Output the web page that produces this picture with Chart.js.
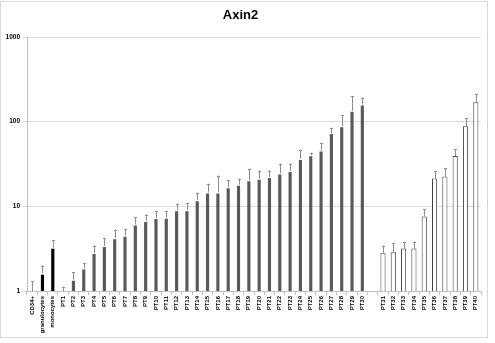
<!DOCTYPE html>
<html lang="en">
<head>
    <meta charset="UTF-8">
    <title>Axin2</title>
    <script src="https://cdn.jsdelivr.net/npm/chart.js"></script>
    <style>
        body { margin: 0; background: #fff; }
        #wrap { width: 495px; height: 343px; }
    </style>
</head>
<body>
<div id="wrap"><canvas id="chart" width="495" height="343"></canvas></div>
<script>
    const categories = ['CD34+', 'granulocytes', 'monocytes',
        'PT1', 'PT2', 'PT3', 'PT4', 'PT5', 'PT6', 'PT7', 'PT8', 'PT9', 'PT10',
        'PT11', 'PT12', 'PT13', 'PT14', 'PT15', 'PT16', 'PT17', 'PT18', 'PT19', 'PT20',
        'PT21', 'PT22', 'PT23', 'PT24', 'PT25', 'PT26', 'PT27', 'PT28', 'PT29', 'PT30',
        '',
        'PT31', 'PT32', 'PT33', 'PT34', 'PT35', 'PT36', 'PT37', 'PT38', 'PT39', 'PT40'];

    const expression = [1.0, 1.6, 3.25,
        1.0, 1.36, 1.84, 2.81, 3.4, 4.2, 4.5, 6.1, 6.7, 7.3,
        7.35, 9.0, 9.0, 11.8, 14.6, 14.6, 16.8, 18.0, 20.3, 21.2,
        22.2, 24.5, 26.1, 36.3, 40, 45.5, 73.4, 88, 135, 159,
        null,
        2.79, 2.87, 3.17, 3.17, 7.57, 21.3, 22.5, 39.2, 88, 169];

    // upper error (SD) added on top of each bar
    const errorUp = [0.3, 0.4, 0.7,
        0.1, 0.3, 0.28, 0.63, 0.82, 1.1, 0.9, 1.3, 1.3, 1.4,
        1.55, 1.8, 1.9, 2.7, 3.9, 8.5, 3.5, 3.2, 7.6, 5.2,
        4.2, 7.4, 5.8, 10.2, 3, 9.9, 11.6, 32, 65, 33,
        null,
        0.65, 0.82, 0.66, 0.66, 1.63, 4.7, 5.5, 7.8, 21, 43];

    const yTicks = [1, 10, 100, 1000];

    function groupOf(label) {
        if (label === 'granulocytes' || label === 'monocytes') return 'cells';
        if (label.startsWith('PT') && parseInt(label.slice(2)) > 30) return 'open';
        return 'patient';
    }
    const fills = categories.map(l => ({ cells: '#000000', patient: '#595959', open: '#ffffff' })[groupOf(l)]);
    const borders = categories.map(l => groupOf(l) === 'open' ? '#404040' : 'rgba(0,0,0,0)');

    const errorBars = {
        id: 'errorBars',
        afterDatasetsDraw(chart) {
            const { ctx, scales } = chart;
            const meta = chart.getDatasetMeta(0);
            ctx.save();
            ctx.strokeStyle = '#8c8c8c';
            ctx.lineWidth = 1;
            expression.forEach((v, i) => {
                if (v === null || errorUp[i] === null) return;
                const x = Math.round(meta.data[i].x) + 0.5;
                const y0 = scales.y.getPixelForValue(v);
                const y1 = scales.y.getPixelForValue(v + errorUp[i]);
                ctx.beginPath();
                ctx.moveTo(x, y0);
                ctx.lineTo(x, y1);
                ctx.moveTo(x - 1.5, Math.round(y1) + 0.5);
                ctx.lineTo(x + 1.5, Math.round(y1) + 0.5);
                ctx.stroke();
            });
            ctx.restore();
        }
    };

    const frame = {
        id: 'frame',
        beforeDraw(chart) {
            const { ctx } = chart;
            ctx.save();
            ctx.strokeStyle = '#d9d9d9';
            ctx.lineWidth = 1;
            ctx.strokeRect(0.5, 1.5, 487, 336);
            ctx.restore();
        }
    };

    new Chart(document.getElementById('chart'), {
        type: 'bar',
        data: {
            labels: categories,
            datasets: [{
                data: expression,
                backgroundColor: fills,
                borderColor: borders,
                borderWidth: 1,
                barPercentage: 0.5,
                categoryPercentage: 1.0
            }]
        },
        options: {
            responsive: false,
            animation: false,
            layout: { padding: { left: 0, right: 14, top: 0, bottom: 0 } },
            plugins: {
                legend: { display: false },
                tooltip: { enabled: false },
                title: {
                    display: true,
                    text: 'Axin2',
                    color: '#000',
                    font: { family: 'Liberation Sans', size: 13, weight: 'bold' },
                    padding: { top: 8, bottom: 13.4 }
                }
            },
            scales: {
                x: {
                    grid: { drawOnChartArea: false, color: '#bfbfbf', tickLength: 4 },
                    border: { color: '#bfbfbf' },
                    ticks: {
                        autoSkip: false, maxRotation: 90, minRotation: 90, padding: 1,
                        color: '#000',
                        font: { family: 'Liberation Sans', size: 6, weight: 'bold' }
                    },
                    afterFit(scale) { scale.height = 52; }
                },
                y: {
                    type: 'logarithmic',
                    min: 1,
                    max: 1000,
                    grid: { color: '#d9d9d9', tickLength: 4 },
                    border: { color: '#bfbfbf' },
                    afterBuildTicks(scale) { scale.ticks = yTicks.map(v => ({ value: v })); },
                    ticks: {
                        padding: 3,
                        color: '#000',
                        font: { family: 'Liberation Sans', size: 6.5, weight: 'bold' },
                        callback: v => String(v)
                    },
                    afterFit(scale) { scale.width = 27; }
                }
            }
        },
        plugins: [errorBars, frame]
    });
</script>
</body>
</html>
